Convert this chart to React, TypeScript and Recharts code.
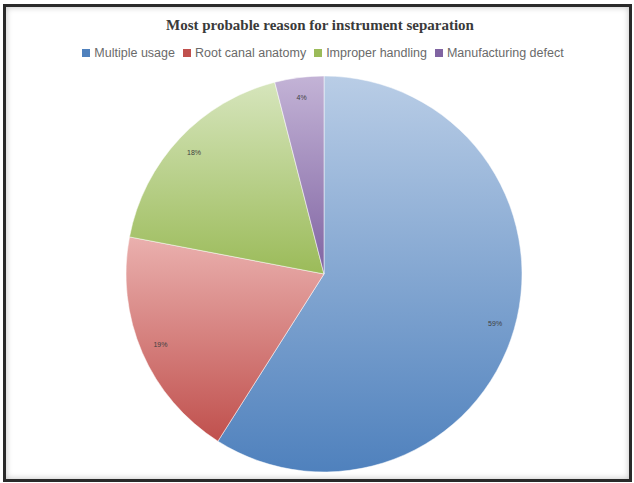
import React from 'react';
import { PieChart, Pie, Cell } from 'recharts';

const categories = ['Multiple usage', 'Root canal anatomy', 'Improper handling', 'Manufacturing defect'];
const values = [59, 19, 18, 4];
const COLORS = ['#4f81bd', '#c0504d', '#9bbb59', '#8064a2'];
const LIGHT = ['#b9cde6', '#eab0ae', '#d6e5bc', '#c3b3d6'];

const data = categories.map((name, i) => ({ name, value: values[i] }));

const RADIAN = Math.PI / 180;

const renderLabel = (props: any) => {
  const { cx, cy, midAngle, outerRadius, percent } = props;
  const r = outerRadius * 0.9;
  const x = cx + r * Math.cos(-midAngle * RADIAN);
  const y = cy + r * Math.sin(-midAngle * RADIAN);
  return (
    <text x={x} y={y} fill="#404040" fontSize={7} textAnchor="middle" dominantBaseline="central"
      fontFamily="'Liberation Sans', Arial, sans-serif">
      {`${Math.round(percent * 100)}%`}
    </text>
  );
};

export default function App() {
  return (
    <div style={{ position: 'absolute', left: 0, top: 0, width: 634, height: 483, background: '#fff' }}>
      <div
        style={{
          position: 'absolute',
          left: 3,
          top: 4,
          width: 629,
          height: 478,
          boxSizing: 'border-box',
          border: '3px solid #2a2a2a',
          boxShadow: 'inset 0 0 6px rgba(0,0,0,0.25)',
          background: '#fff',
        }}
      />
      <div
        style={{
          position: 'absolute',
          left: 0,
          top: 17,
          width: 640,
          textAlign: 'center',
          fontFamily: "'Liberation Serif', 'Times New Roman', serif",
          fontWeight: 'bold',
          fontSize: 15,
          color: '#3a3a3a',
        }}
      >
        Most probable reason for instrument separation
      </div>
      <div
        style={{
          position: 'absolute',
          left: 0,
          top: 46,
          width: 646,
          display: 'flex',
          justifyContent: 'center',
          gap: 8,
          fontFamily: "'Liberation Sans', Arial, sans-serif",
          fontSize: 12.5,
          color: '#6a6a6a',
        }}
      >
        {categories.map((c, i) => (
          <span key={c} style={{ display: 'flex', alignItems: 'center' }}>
            <span style={{ width: 8, height: 8, background: COLORS[i], marginRight: 4, display: 'inline-block' }} />
            {c}
          </span>
        ))}
      </div>
      <div style={{ position: 'absolute', left: 0, top: 0 }}>
        <PieChart width={634} height={483} margin={{ top: 0, right: 0, bottom: 0, left: 0 }}>
          <defs>
            {COLORS.map((c, i) => (
              <linearGradient key={`g-${i}`} id={`grad-${i}`} x1="0" y1="0" x2="0" y2="1">
                <stop offset="0%" stopColor={LIGHT[i]} />
                <stop offset="100%" stopColor={c} />
              </linearGradient>
            ))}
          </defs>
          <Pie
            data={data}
            dataKey="value"
            nameKey="name"
            cx={324}
            cy={274}
            outerRadius={198}
            startAngle={90}
            endAngle={-270}
            stroke="#ffffff"
            strokeWidth={0.5}
            labelLine={false}
            label={renderLabel}
            isAnimationActive={false}
          >
            {data.map((entry, index) => (
              <Cell key={`cell-${index}`} fill={`url(#grad-${index})`} />
            ))}
          </Pie>
        </PieChart>
      </div>
    </div>
  );
}
